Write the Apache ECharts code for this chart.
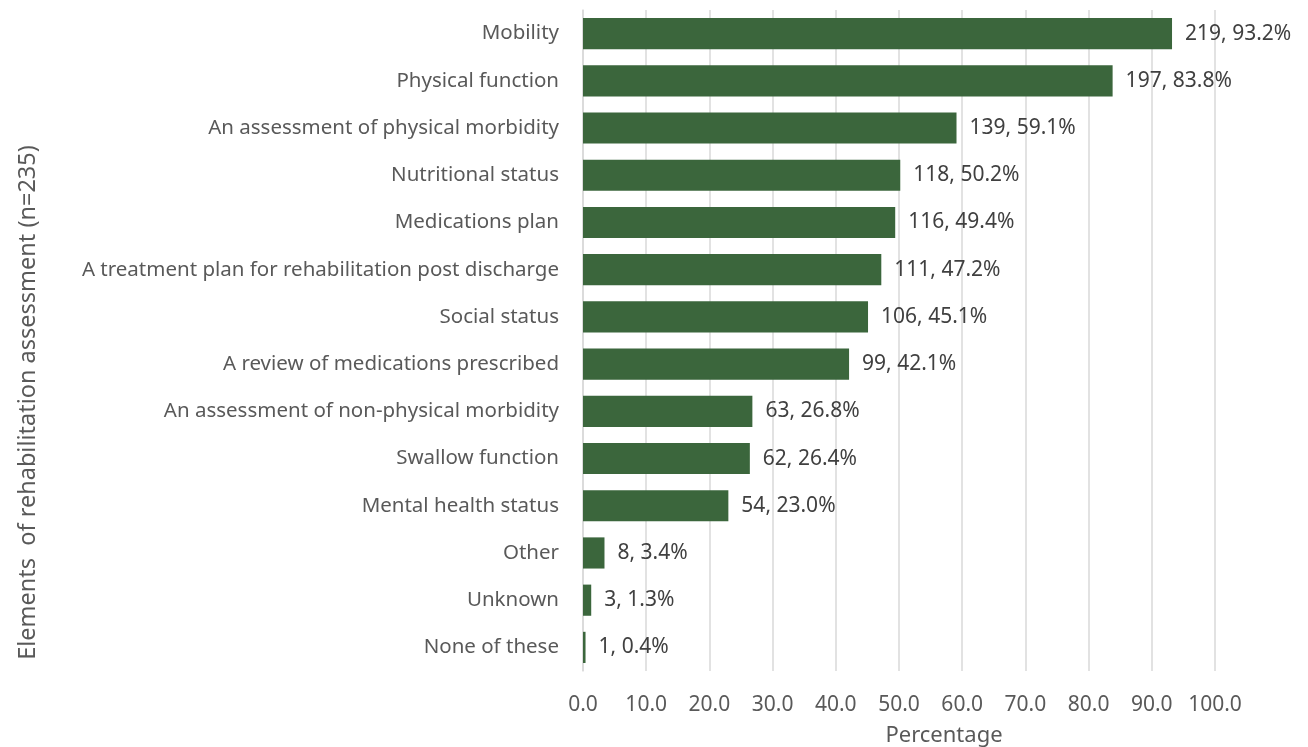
<!DOCTYPE html>
<html>
<head>
<meta charset="utf-8">
<script src="https://cdn.jsdelivr.net/npm/echarts@6/dist/echarts.min.js"></script>
<style>
html, body { margin: 0; padding: 0; background: #fff; }
#main { width: 1308px; height: 747px; }
</style>
</head>
<body>
<div id="main"></div>
<script>
// categories top to bottom as in the picture
var categories = [
	"Mobility",
	"Physical function",
	"An assessment of physical morbidity",
	"Nutritional status",
	"Medications plan",
	"A treatment plan for rehabilitation post discharge",
	"Social status",
	"A review of medications prescribed",
	"An assessment of non-physical morbidity",
	"Swallow function",
	"Mental health status",
	"Other",
	"Unknown",
	"None of these"
];
var counts = [219, 197, 139, 118, 116, 111, 106, 99, 63, 62, 54, 8, 3, 1];
var percents = [93.2, 83.8, 59.1, 50.2, 49.4, 47.2, 45.1, 42.1, 26.8, 26.4, 23.0, 3.4, 1.3, 0.4];
var xTicks = [0, 10, 20, 30, 40, 50, 60, 70, 80, 90, 100];

var font = "'Noto Sans', 'Open Sans', sans-serif";
var chart = echarts.init(document.getElementById('main'));

var option = {
	animation : false,
	grid : {
		left : 583,
		right : 93,
		top : 10,
		bottom : 76,
		outerBoundsMode : "none"
	},
	xAxis : {
		type : "value",
		min : xTicks[0],
		max : xTicks[xTicks.length - 1],
		interval : 10,
		name : "Percentage",
		nameLocation : "middle",
		nameGap : 54,
		nameTextStyle : {
			fontFamily : font,
			fontSize : 22,
			color : "#595959",
			padding : [0, 0, 0, 90]
		},
		axisLine : { show : false },
		axisTick : { show : false },
		axisLabel : {
			margin : 24,
			fontFamily : font,
			fontSize : 21,
			color : "#595959",
			formatter : function(v){ return v.toFixed(1); }
		},
		splitLine : {
			show : true,
			lineStyle : { color : "#d9d9d9", width : 1.5 }
		}
	},
	yAxis : {
		type : "category",
		inverse : true,
		data : categories,
		name : "Elements  of rehabilitation assessment (n=235)",
		nameLocation : "middle",
		nameGap : 543,
		nameTextStyle : {
			fontFamily : font,
			fontSize : 23.5,
			color : "#595959",
			padding : [0, 124, 0, 0]
		},
		axisLine : {
			show : true,
			lineStyle : { color : "#d9d9d9", width : 1.5 }
		},
		axisTick : { show : false },
		axisLabel : {
			margin : 24,
			fontFamily : font,
			fontSize : 20.5,
			color : "#595959"
		}
	},
	series : [
		{
			type : "bar",
			data : percents,
			barWidth : "66%",
			itemStyle : { color : "#3b663c" },
			label : {
				show : true,
				position : "right",
				distance : 13,
				fontFamily : font,
				fontSize : 21,
				color : "#404040",
				formatter : function(p){
					return counts[p.dataIndex] + ", " + percents[p.dataIndex].toFixed(1) + "%";
				}
			}
		}
	]
};
chart.setOption(option);
</script>
</body>
</html>
